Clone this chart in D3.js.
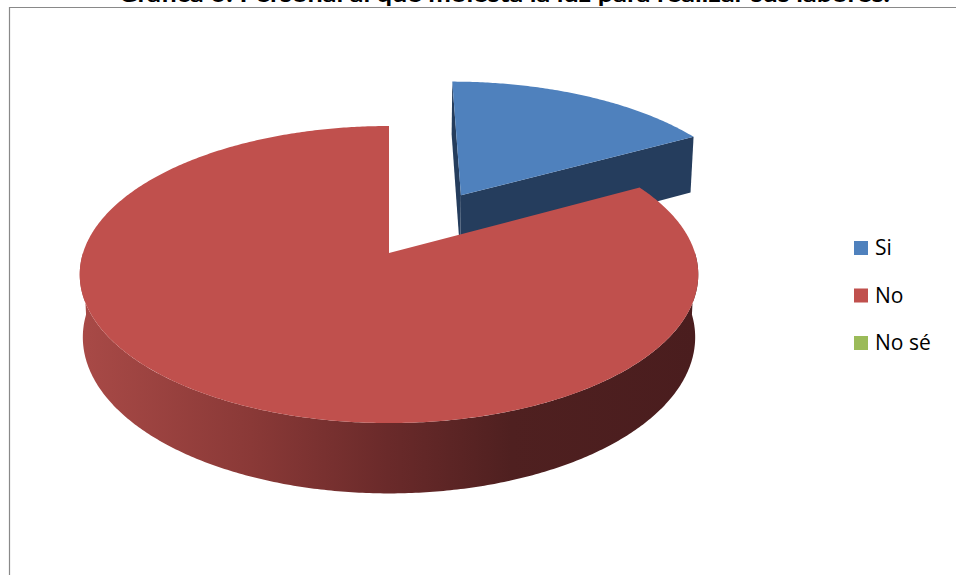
<!DOCTYPE html>
<html>
<head>
<meta charset="utf-8">
<script src="https://cdn.jsdelivr.net/npm/d3@7/dist/d3.min.js"></script>
<style>
  html, body { margin: 0; padding: 0; background: #fff; }
  svg { display: block; }
</style>
</head>
<body>
<svg id="chart" width="956" height="575"></svg>
<script>
// ---- data ----
const titleText = "Gráfica 6: Personal al que molesta la luz para realizar sus labores.";
const categories = ["Si", "No", "No sé"];
const values = [17, 83, 0];
const topColors = ["#4F81BD", "#C0504D", "#9BBB59"];
const sideColors = ["#253D5D", "#6E2C2B", "#5D7336"];
const explodeAmount = [0.49, 0, 0];

// ---- layout ----
const W = 956, H = 575;
const cx = 389, cy0 = 253;
const Rx = 306, Ry = 145.4;
const k = 0.145;      // perspective strength
const D = 61.6;       // depth of the pie
const sB = 0.99;      // bottom face shrink

const svg = d3.select("#chart");
const defs = svg.append("defs");

// frame
svg.append("path")
  .attr("d", `M9.5,${H} L9.5,7.5 L${W},7.5`)
  .attr("fill", "none").attr("stroke", "#898989").attr("stroke-width", 1.2);

// title (partly cut off at top)
svg.append("text")
  .attr("x", 504).attr("y", 2)
  .attr("text-anchor", "middle")
  .attr("font-family", "Lato, 'Open Sans', sans-serif")
  .attr("font-weight", 700)
  .attr("font-size", 22)
  .attr("textLength", 772)
  .attr("lengthAdjust", "spacingAndGlyphs")
  .attr("fill", "#000")
  .text(titleText);

// scales for projected plane coordinates
const xs = d3.scaleLinear().domain([-1, 1]).range([cx - Rx, cx + Rx]);
const ys = d3.scaleLinear().domain([-1, 1]).range([cy0 + Ry, cy0 - Ry]);

function P(X, Z, bottom) {
  const w = 1 + k * Z;
  const s = bottom ? sB : 1;
  return [xs(X / w * s), ys(Z / w * s) + (bottom ? D / w : 0)];
}

const pie = d3.pie().sort(null).value(d => d).startAngle(0).endAngle(2 * Math.PI);
const arcs = pie(values);

const line = d3.line();

function arcPoints(a0, a1, ox, oz, bottom) {
  const n = Math.max(2, Math.ceil((a1 - a0) / 0.01));
  const pts = [];
  for (let i = 0; i <= n; i++) {
    const t = a0 + (a1 - a0) * i / n;
    pts.push(P(ox + Math.sin(t), oz + Math.cos(t), bottom));
  }
  return pts;
}

// wall gradient
const grad = defs.append("linearGradient")
  .attr("id", "wallGrad").attr("gradientUnits", "userSpaceOnUse")
  .attr("x1", 78).attr("x2", 697).attr("y1", 0).attr("y2", 0);
[[0, "#A94A47"], [0.28, "#8A3937"], [0.5, "#6A2A2A"], [0.7, "#4F2020"], [1, "#4A1D1E"]]
  .forEach(([o, c]) => grad.append("stop").attr("offset", o).attr("stop-color", c));

const slices = arcs.map((a, i) => {
  const mid = (a.startAngle + a.endAngle) / 2;
  const e = explodeAmount[i];
  return { a, i, ox: e * Math.sin(mid), oz: e * Math.cos(mid) };
}).filter(s => s.a.endAngle - s.a.startAngle > 1e-6);

const gSides = svg.append("g");
const gTops = svg.append("g");

// order: exploded (back) slice first
slices.sort((p, q) => q.oz - p.oz);

slices.forEach(s => {
  const { a, i, ox, oz } = s;
  const g = gSides.append("g");
  // radial faces (only drawn for exploded slice, red ones are hidden)
  if (explodeAmount[i] > 0) {
    [a.startAngle, a.endAngle].forEach(ang => {
      const pts = [
        P(ox, oz, false),
        P(ox + Math.sin(ang), oz + Math.cos(ang), false),
        P(ox + Math.sin(ang), oz + Math.cos(ang), true),
        P(ox, oz, true)
      ];
      g.append("path").attr("d", line(pts) + "Z").attr("fill", sideColors[i]);
    });
    g.append("path")
      .attr("d", line(arcPoints(a.startAngle, a.endAngle, ox, oz, false)) + "L" + P(ox, oz, false).join(",") + "Z")
      .attr("fill", topColors[i]);
  } else {
    // outer wall, front part
    const w0 = Math.max(a.startAngle, Math.PI / 2);
    const w1 = Math.min(a.endAngle, 3 * Math.PI / 2);
    if (w1 > w0) {
      const topPts = arcPoints(w0, w1, ox, oz, false);
      const botPts = arcPoints(w0, w1, ox, oz, true).reverse();
      g.append("path").attr("d", line(topPts.concat(botPts)) + "Z")
        .attr("fill", i === 1 ? "url(#wallGrad)" : sideColors[i]);
    }
    gTops.append("path")
      .attr("d", line(arcPoints(a.startAngle, a.endAngle, ox, oz, false)) + "L" + P(ox, oz, false).join(",") + "Z")
      .attr("fill", topColors[i]);
  }
});

// legend
const legend = svg.append("g").attr("transform", "translate(854,241)");
categories.forEach((c, i) => {
  const row = legend.append("g").attr("transform", `translate(0,${i * 47.5})`);
  row.append("rect").attr("width", 14).attr("height", 14).attr("fill", topColors[i]);
  row.append("text").attr("x", 21).attr("y", 14)
    .attr("font-family", "'Open Sans', sans-serif").attr("font-size", 21)
    .attr("fill", "#000").text(c);
});
</script>
</body>
</html>
